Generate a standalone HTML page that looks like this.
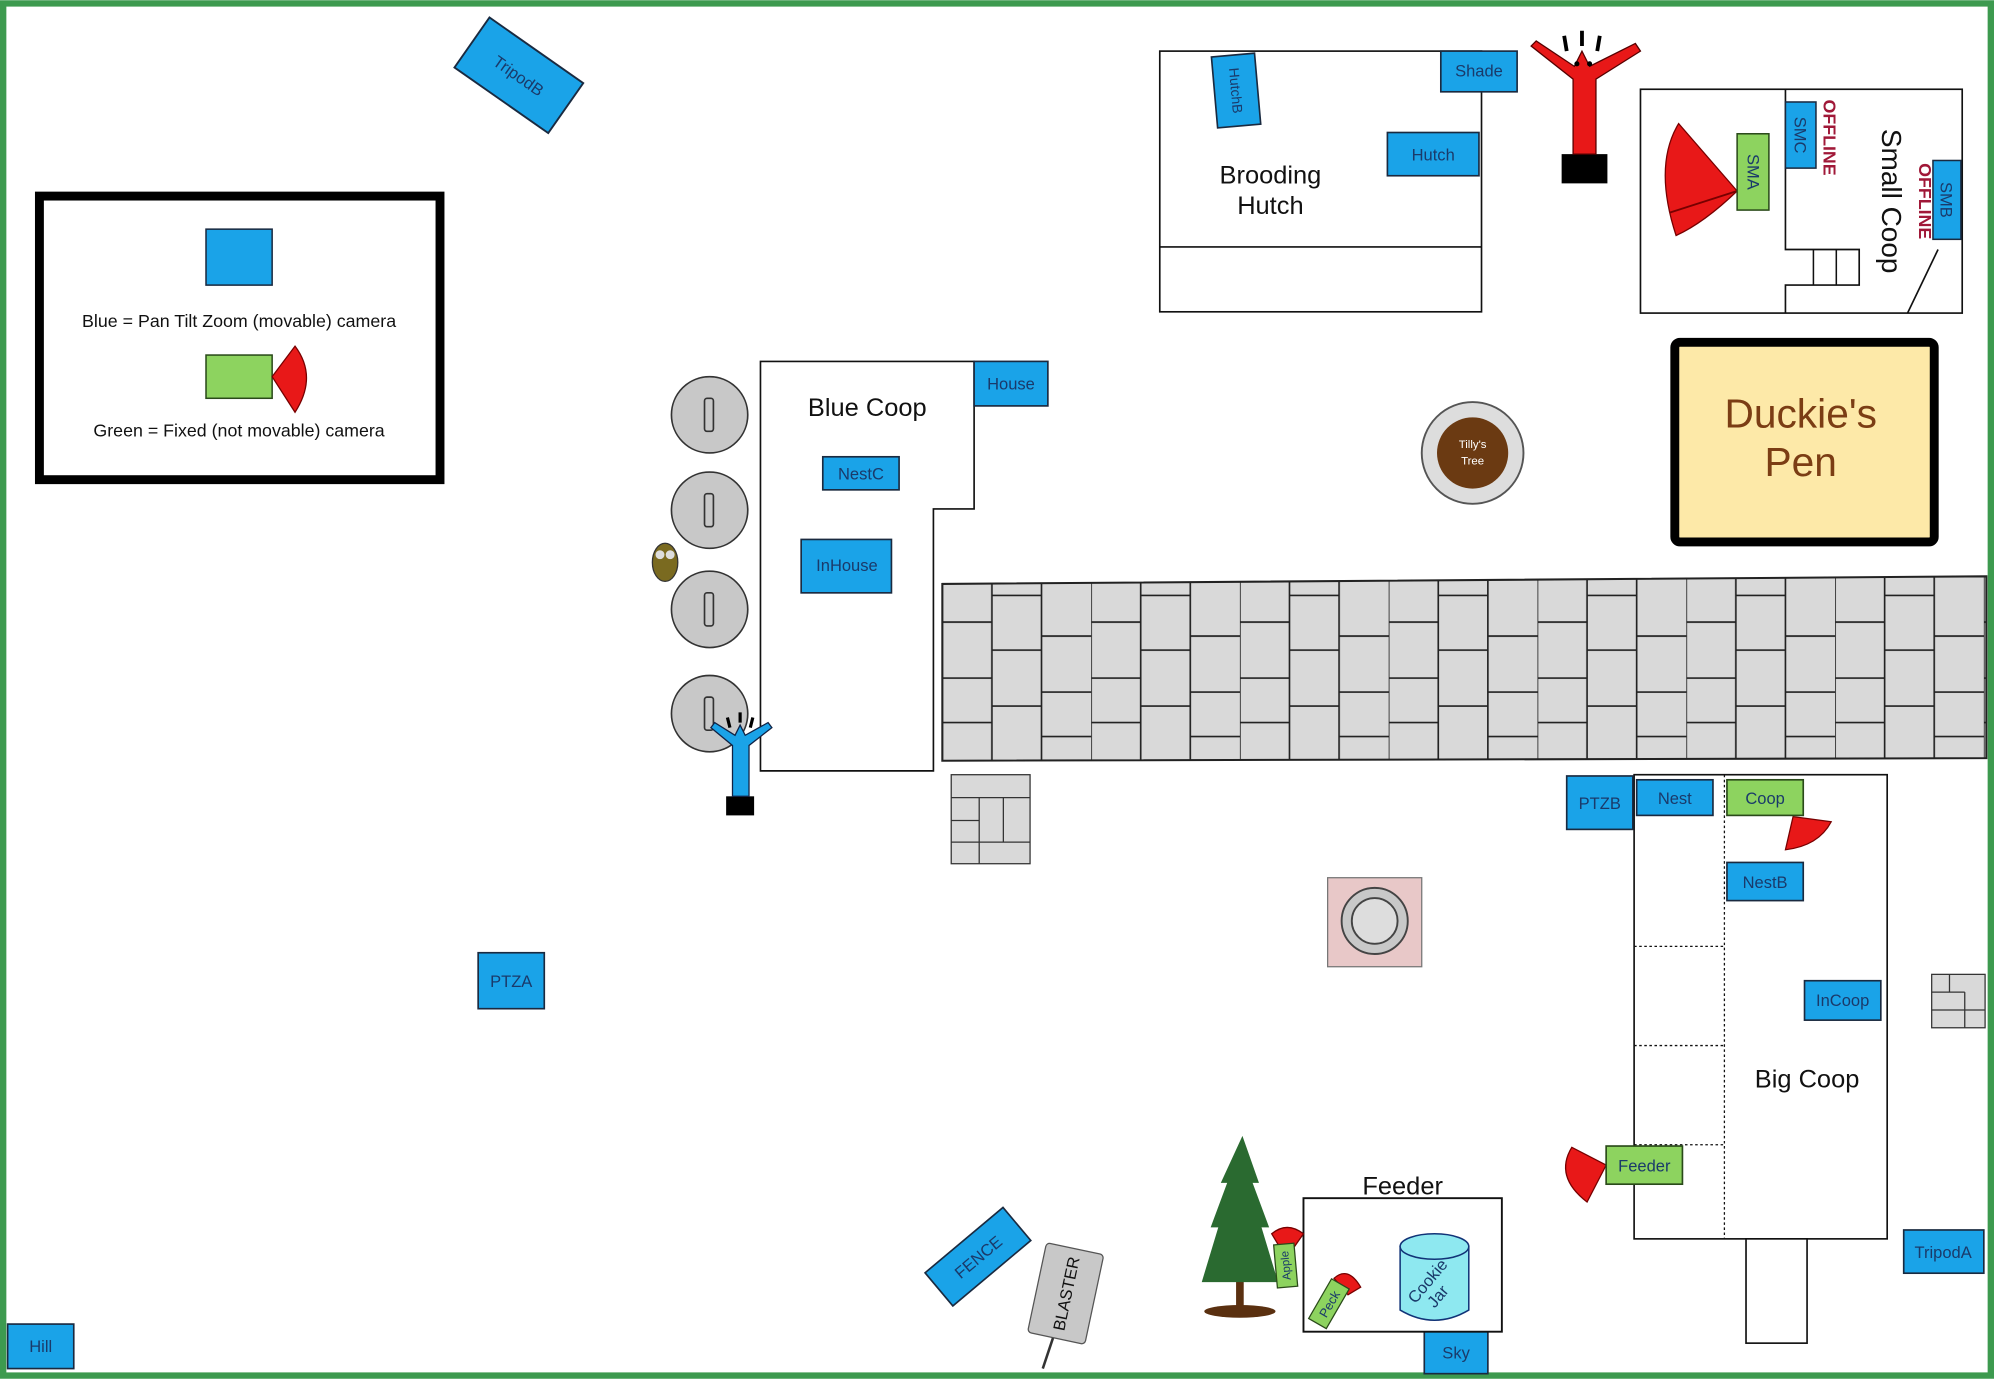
<!DOCTYPE html>
<html><head><meta charset="utf-8"><style>html,body{margin:0;padding:0;background:#fff}svg{display:block}</style></head>
<body>
<svg width="1994" height="1379" viewBox="0 0 1568 1084" xmlns="http://www.w3.org/2000/svg" font-family="Liberation Sans, sans-serif">
<defs>
<pattern id="pav" x="741" y="456" width="117" height="141" patternUnits="userSpaceOnUse">
<rect width="117" height="141" fill="#d9d9d9"/>
<g stroke="#222" stroke-width="1.3">
<line x1="0" y1="0" x2="0" y2="141"/><line x1="39" y1="0" x2="39" y2="141"/><line x1="78" y1="0" x2="78" y2="141"/>
<line x1="0" y1="33" x2="39" y2="33"/><line x1="0" y1="77" x2="39" y2="77"/><line x1="0" y1="112" x2="39" y2="112"/>
<line x1="39" y1="12" x2="78" y2="12"/><line x1="39" y1="55" x2="78" y2="55"/><line x1="39" y1="99" x2="78" y2="99"/>
<line x1="78" y1="44" x2="117" y2="44"/><line x1="78" y1="88" x2="117" y2="88"/><line x1="78" y1="123" x2="117" y2="123"/>
</g></pattern>
</defs>
<rect x="2.5" y="2.5" width="1563" height="1079" fill="#fff" stroke="#3d9a4f" stroke-width="5"/>

<g font-size="13" fill="#1a3a6a" text-anchor="middle">
<!-- TripodB -->
<g transform="translate(408,59) rotate(35)"><rect x="-45" y="-24" width="90" height="48" fill="#1aa3e8" stroke="#1a2a40" stroke-width="1.5"/><text y="5">TripodB</text></g>
</g>

<!-- Legend -->
<rect x="31" y="154" width="315" height="223" fill="#fff" stroke="#000" stroke-width="7"/>
<rect x="162" y="180" width="52" height="44" fill="#1aa3e8" stroke="#1a2a40" stroke-width="1.2"/>
<text x="188" y="257" font-size="14" text-anchor="middle" fill="#111">Blue = Pan Tilt Zoom (movable) camera</text>
<rect x="162" y="279" width="52" height="34" fill="#8dd35f" stroke="#2a4a1a" stroke-width="1.2"/>
<path d="M214,296 L232,272 Q250,296 232,324 Z" fill="#e81818" stroke="#700" stroke-width="1"/>
<text x="188" y="343" font-size="14" text-anchor="middle" fill="#111">Green = Fixed (not movable) camera</text>

<!-- Brooding Hutch -->
<rect x="912" y="40" width="253" height="205" fill="#fff" stroke="#111" stroke-width="1.3"/>
<line x1="912" y1="194" x2="1165" y2="194" stroke="#111" stroke-width="1.3"/>
<text x="999" y="144" font-size="20" text-anchor="middle" fill="#111">Brooding</text>
<text x="999" y="168" font-size="20" text-anchor="middle" fill="#111">Hutch</text>
<g font-size="13" fill="#1a3a6a" text-anchor="middle">
<g transform="translate(972,71) rotate(-5)"><rect x="-17" y="-28" width="34" height="56" fill="#1aa3e8" stroke="#1a2a40" stroke-width="1.3"/><text transform="rotate(90)" y="4" font-size="11">HutchB</text></g>
<rect x="1133" y="40" width="60" height="32" fill="#1aa3e8" stroke="#1a2a40" stroke-width="1.3"/><text x="1163" y="60">Shade</text>
<rect x="1091" y="104" width="72" height="34" fill="#1aa3e8" stroke="#1a2a40" stroke-width="1.3"/><text x="1127" y="126">Hutch</text>
</g>

<!-- Red inflatable -->
<g>
<rect x="1228" y="121" width="36" height="23" fill="#000"/>
<path d="M1237,121 L1237,62 L1204,36 L1208,32 L1238,52 L1244,40 L1250,52 L1286,34 L1290,40 L1255,62 L1255,121 Z" fill="#e81818" stroke="#500" stroke-width="1"/>
<path d="M1232,40 l-2,-12 M1244,36 l0,-12 M1256,40 l2,-12" stroke="#000" stroke-width="3"/>
<circle cx="1240" cy="50" r="2" fill="#000"/><circle cx="1250" cy="50" r="2" fill="#000"/>
</g>

<!-- Small coop -->
<rect x="1290" y="70" width="253" height="176" fill="#fff" stroke="#111" stroke-width="1.3"/>
<path d="M1404,70 V196 H1462 V224 H1404 V246" fill="none" stroke="#111" stroke-width="1.3"/>
<path d="M1426,196 V224 M1444,196 V224" stroke="#111" stroke-width="1.2"/>
<line x1="1524" y1="196" x2="1500" y2="246" stroke="#111" stroke-width="1.3"/>
<path d="M1366,150 L1320,97 Q1300,130 1318,185 Q1340,175 1366,150 Z" fill="#e81818" stroke="#700" stroke-width="1"/>
<line x1="1366" y1="150" x2="1313" y2="167" stroke="#700" stroke-width="1.5"/>
<g font-size="13" fill="#1a3a6a" text-anchor="middle">
<rect x="1366" y="105" width="25" height="60" fill="#8dd35f" stroke="#2a4a1a" stroke-width="1.2"/><text transform="translate(1374,135) rotate(90)" y="0">SMA</text>
<rect x="1404" y="80" width="24" height="52" fill="#1aa3e8" stroke="#1a2a40" stroke-width="1.2"/><text transform="translate(1411,106) rotate(90)">SMC</text>
<rect x="1520" y="126" width="22" height="62" fill="#1aa3e8" stroke="#1a2a40" stroke-width="1.2"/><text transform="translate(1526,157) rotate(90)">SMB</text>
</g>
<g fill="#a01838" font-size="14" font-weight="bold" text-anchor="middle">
<text transform="translate(1434,108) rotate(90)">OFFLINE</text>
<text transform="translate(1509,158) rotate(90)">OFFLINE</text>
</g>
<text transform="translate(1480,158) rotate(90)" font-size="22" text-anchor="middle" fill="#111">Small Coop</text>

<!-- Duckie's Pen -->
<rect x="1317" y="269" width="204" height="157" rx="4" fill="#fde9a8" stroke="#000" stroke-width="7"/>
<text x="1416" y="336" font-size="32" text-anchor="middle" fill="#7b3d14">Duckie's</text>
<text x="1416" y="374" font-size="32" text-anchor="middle" fill="#7b3d14">Pen</text>

<!-- Blue Coop -->
<path d="M598,284 H766 V400 H734 V606 H598 Z" fill="#fff" stroke="#111" stroke-width="1.3"/>
<text x="682" y="327" font-size="20" text-anchor="middle" fill="#111">Blue Coop</text>
<g font-size="13" fill="#1a3a6a" text-anchor="middle">
<rect x="766" y="284" width="58" height="35" fill="#1aa3e8" stroke="#1a2a40" stroke-width="1.3"/><text x="795" y="306">House</text>
<rect x="647" y="359" width="60" height="26" fill="#1aa3e8" stroke="#1a2a40" stroke-width="1.3"/><text x="677" y="377">NestC</text>
<rect x="630" y="424" width="71" height="42" fill="#1aa3e8" stroke="#1a2a40" stroke-width="1.3"/><text x="666" y="449">InHouse</text>
</g>

<!-- barrels -->
<g fill="#c8c8c8" stroke="#333" stroke-width="1.3">
<circle cx="558" cy="326" r="30"/><circle cx="558" cy="401" r="30"/><circle cx="558" cy="479" r="30"/><circle cx="558" cy="561" r="30"/>
<rect x="554" y="313" width="7" height="26" rx="2"/><rect x="554" y="388" width="7" height="26" rx="2"/><rect x="554" y="466" width="7" height="26" rx="2"/><rect x="554" y="548" width="7" height="26" rx="2"/>
</g>
<!-- owl -->
<ellipse cx="523" cy="442" rx="10" ry="15" fill="#7a6a20" stroke="#333"/>
<circle cx="519" cy="436" r="3.5" fill="#ddd"/><circle cx="527" cy="436" r="3.5" fill="#ddd"/>
<!-- blue inflatable -->
<rect x="571" y="626" width="22" height="15" fill="#000"/>
<path d="M576,626 V586 L559,572 L562,568 L578,578 L582,570 L586,578 L604,568 L607,572 L589,586 V626 Z" fill="#1aa3e8" stroke="#124" stroke-width="1"/>
<path d="M574,572 l-2,-8 M582,568 l0,-8 M590,572 l2,-8" stroke="#000" stroke-width="2.5"/>

<!-- pavers -->
<polygon points="741,459 1562,453 1562,596 741,598" fill="url(#pav)" stroke="#222" stroke-width="1.6"/>
<!-- small paver -->
<rect x="748" y="609" width="62" height="70" fill="#d9d9d9" stroke="#333"/>
<path d="M748,627 H810 M748,645 H770 M748,662 H810 M770,627 V679 M789,627 V662" stroke="#333" fill="none"/>

<!-- Tilly's tree -->
<circle cx="1158" cy="356" r="40" fill="#ddd" stroke="#555" stroke-width="1.5"/>
<circle cx="1158" cy="356" r="28" fill="#6b3a12"/>
<text x="1158" y="352" font-size="9" text-anchor="middle" fill="#fff">Tilly's</text>
<text x="1158" y="365" font-size="9" text-anchor="middle" fill="#fff">Tree</text>

<!-- grill -->
<rect x="1044" y="690" width="74" height="70" fill="#e8c8c8" stroke="#777"/>
<circle cx="1081" cy="724" r="26" fill="#c8c8c8" stroke="#444" stroke-width="1.5"/>
<circle cx="1081" cy="724" r="18" fill="#ddd" stroke="#444" stroke-width="1.5"/>

<!-- Big coop -->
<rect x="1285" y="609" width="199" height="365" fill="#fff" stroke="#111" stroke-width="1.3"/>
<line x1="1356" y1="609" x2="1356" y2="974" stroke="#111" stroke-dasharray="2,2"/>
<g stroke="#111" stroke-dasharray="2,2"><line x1="1285" y1="744" x2="1356" y2="744"/><line x1="1285" y1="822" x2="1356" y2="822"/><line x1="1285" y1="900" x2="1356" y2="900"/></g>
<rect x="1373" y="974" width="48" height="82" fill="#fff" stroke="#111" stroke-width="1.3"/>
<text x="1421" y="855" font-size="20" text-anchor="middle" fill="#111">Big Coop</text>
<path d="M1410,642 L1440,646 Q1430,665 1404,668 Z" fill="#e81818" stroke="#700"/>
<path d="M1263,916 L1236,902 Q1222,925 1248,945 Z" fill="#e81818" stroke="#700"/>
<g font-size="13" fill="#1a3a6a" text-anchor="middle">
<rect x="1232" y="610" width="52" height="42" fill="#1aa3e8" stroke="#1a2a40" stroke-width="1.3"/><text x="1258" y="636">PTZB</text>
<rect x="1287" y="613" width="60" height="28" fill="#1aa3e8" stroke="#1a2a40" stroke-width="1.3"/><text x="1317" y="632">Nest</text>
<rect x="1358" y="613" width="60" height="28" fill="#8dd35f" stroke="#2a4a1a" stroke-width="1.3"/><text x="1388" y="632">Coop</text>
<rect x="1358" y="678" width="60" height="30" fill="#1aa3e8" stroke="#1a2a40" stroke-width="1.3"/><text x="1388" y="698">NestB</text>
<rect x="1419" y="771" width="60" height="31" fill="#1aa3e8" stroke="#1a2a40" stroke-width="1.3"/><text x="1449" y="791">InCoop</text>
<rect x="1263" y="901" width="60" height="30" fill="#8dd35f" stroke="#2a4a1a" stroke-width="1.3"/><text x="1293" y="921">Feeder</text>
<rect x="1497" y="967" width="63" height="34" fill="#1aa3e8" stroke="#1a2a40" stroke-width="1.3"/><text x="1528" y="989">TripodA</text>
<rect x="376" y="749" width="52" height="44" fill="#1aa3e8" stroke="#1a2a40" stroke-width="1.3"/><text x="402" y="776">PTZA</text>
<rect x="6" y="1041" width="52" height="35" fill="#1aa3e8" stroke="#1a2a40" stroke-width="1.3"/><text x="32" y="1063">Hill</text>
<rect x="1120" y="1047" width="50" height="33" fill="#1aa3e8" stroke="#1a2a40" stroke-width="1.3"/><text x="1145" y="1068">Sky</text>
<g transform="translate(769,988) rotate(-40)"><rect x="-40" y="-17" width="80" height="34" fill="#1aa3e8" stroke="#1a2a40" stroke-width="1.3"/><text y="5">FENCE</text></g>
</g>
<!-- small gray square right -->
<rect x="1519" y="766" width="42" height="42" fill="#d9d9d9" stroke="#333"/>
<path d="M1519,780 H1545 M1519,794 H1561 M1533,766 V780 M1545,780 V808" stroke="#333"/>

<!-- BLASTER -->
<g transform="translate(838,1017) rotate(12)"><rect x="-23" y="-36" width="46" height="72" rx="3" fill="#c8c8c8" stroke="#555"/><text transform="rotate(-90)" y="5" font-size="13" text-anchor="middle" fill="#111">BLASTER</text></g>
<line x1="828" y1="1052" x2="820" y2="1076" stroke="#333" stroke-width="2"/>

<!-- Feeder -->
<rect x="1025" y="942" width="156" height="105" fill="#fff" stroke="#111" stroke-width="1.5"/>
<text x="1103" y="939" font-size="20" text-anchor="middle" fill="#111">Feeder</text>
<path d="M1101,980 V1030 Q1128,1046 1155,1030 V980 Z" fill="#8ee8f0" stroke="#137" stroke-width="1.2"/>
<ellipse cx="1128" cy="980" rx="27" ry="10" fill="#8ee8f0" stroke="#137" stroke-width="1.2"/>
<text transform="translate(1126,1010) rotate(-50)" font-size="13" text-anchor="middle" fill="#1a3a6a">Cookie</text>
<text transform="translate(1134,1022) rotate(-50)" font-size="13" text-anchor="middle" fill="#1a3a6a">Jar</text>
<!-- tree -->
<ellipse cx="975" cy="1031" rx="28" ry="5" fill="#5a3010"/>
<rect x="972" y="1005" width="6" height="26" fill="#5a3010"/>
<path d="M977,893 L990,930 L985,930 L998,965 L992,965 L1005,1008 L945,1008 L958,965 L952,965 L965,930 L960,930 Z" fill="#2a6a30"/>
<!-- Apple, Peck -->
<path d="M1000,970 Q1012,960 1025,970 L1018,980 L1006,980 Z" fill="#e81818" stroke="#700"/>
<g transform="translate(1011,995) rotate(-5)"><rect x="-8" y="-17" width="16" height="34" fill="#8dd35f" stroke="#2a4a1a"/><text transform="rotate(-90)" y="3" font-size="9" text-anchor="middle" fill="#1a3a6a">Apple</text></g>
<path d="M1049,1005 Q1060,995 1070,1012 L1060,1018 Z" fill="#e81818" stroke="#700"/>
<g transform="translate(1045,1025) rotate(-60)"><rect x="-18" y="-8" width="36" height="16" fill="#8dd35f" stroke="#2a4a1a"/><text y="4" font-size="10" text-anchor="middle" fill="#1a3a6a">Peck</text></g>
</svg>
</body></html>
